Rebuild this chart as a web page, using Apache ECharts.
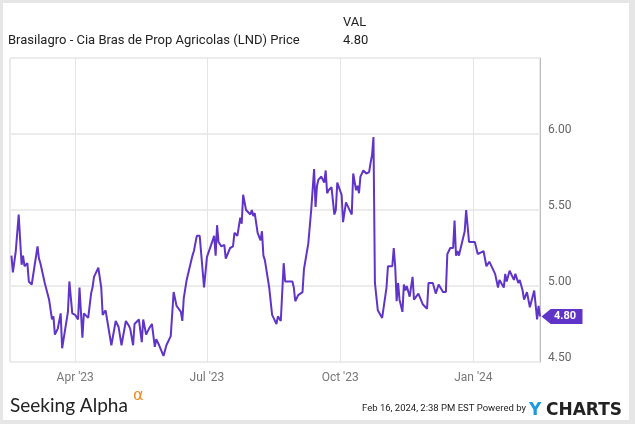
<!DOCTYPE html>
<html>
<head>
<meta charset="utf-8">
<script src="https://cdn.jsdelivr.net/npm/echarts@6/dist/echarts.min.js"></script>
<style>
html,body{margin:0;padding:0;background:#e6e6e6;}
#frame{position:absolute;left:3px;top:3px;width:626px;height:417px;background:#fff;}
#chart{position:absolute;left:0;top:0;width:635px;height:424px;}
</style>
</head>
<body>
<div id="frame"></div>
<div id="chart"></div>
<script>
const title = "Brasilagro - Cia Bras de Prop Agricolas (LND) Price";
const dates = [
"2023-02-16","2023-02-17","2023-02-19","2023-02-21","2023-02-23","2023-02-24","2023-02-25","2023-02-27","2023-02-28","2023-03-01",
"2023-03-02","2023-03-06","2023-03-07","2023-03-08","2023-03-11","2023-03-14","2023-03-16","2023-03-17","2023-03-18","2023-03-20",
"2023-03-22","2023-03-23","2023-03-27","2023-03-28","2023-03-30","2023-04-01","2023-04-03","2023-04-04","2023-04-06","2023-04-07",
"2023-04-10","2023-04-12","2023-04-13","2023-04-14","2023-04-17","2023-04-19","2023-04-20","2023-04-22","2023-04-26","2023-04-27",
"2023-04-29","2023-05-01","2023-05-03","2023-05-04","2023-05-06","2023-05-08","2023-05-09","2023-05-11","2023-05-12","2023-05-15",
"2023-05-17","2023-05-18","2023-05-20","2023-05-22","2023-05-23","2023-05-24","2023-05-26","2023-05-27","2023-05-29","2023-06-01",
"2023-06-03","2023-06-06","2023-06-08","2023-06-10","2023-06-13","2023-06-14","2023-06-15","2023-06-16","2023-06-17","2023-06-21",
"2023-06-22","2023-06-24","2023-06-26","2023-06-29","2023-06-30","2023-07-01","2023-07-06","2023-07-07","2023-07-08","2023-07-09",
"2023-07-11","2023-07-13","2023-07-14","2023-07-17","2023-07-19","2023-07-20","2023-07-22","2023-07-24","2023-07-25","2023-07-26",
"2023-07-28","2023-07-31","2023-08-01","2023-08-02","2023-08-03","2023-08-05","2023-08-07","2023-08-08","2023-08-09","2023-08-10",
"2023-08-13","2023-08-15","2023-08-16","2023-08-17","2023-08-18","2023-08-19","2023-08-21","2023-08-23","2023-08-24","2023-08-25",
"2023-08-29","2023-08-30","2023-08-31","2023-09-02","2023-09-05","2023-09-06","2023-09-07","2023-09-09","2023-09-11","2023-09-13",
"2023-09-14","2023-09-15","2023-09-16","2023-09-18","2023-09-19","2023-09-20","2023-09-21","2023-09-22","2023-09-23","2023-09-25",
"2023-09-27","2023-09-28","2023-09-29","2023-10-02","2023-10-03","2023-10-05","2023-10-09","2023-10-10","2023-10-12","2023-10-13",
"2023-10-14","2023-10-15","2023-10-17","2023-10-19","2023-10-21","2023-10-22","2023-10-23","2023-10-24","2023-10-25","2023-10-26",
"2023-10-27","2023-10-30","2023-11-02","2023-11-03","2023-11-06","2023-11-07","2023-11-08","2023-11-09","2023-11-10","2023-11-11",
"2023-11-13","2023-11-14","2023-11-15","2023-11-16","2023-11-18","2023-11-20","2023-11-21","2023-11-24","2023-11-27","2023-11-30",
"2023-12-01","2023-12-04","2023-12-06","2023-12-08","2023-12-11","2023-12-13","2023-12-14","2023-12-16","2023-12-18","2023-12-19",
"2023-12-20","2023-12-21","2023-12-22","2023-12-26","2023-12-27","2023-12-29","2024-01-02","2024-01-04","2024-01-08","2024-01-10",
"2024-01-12","2024-01-16","2024-01-18","2024-01-19","2024-01-22","2024-01-23","2024-01-24","2024-01-26","2024-01-27","2024-01-29",
"2024-01-30","2024-02-01","2024-02-02","2024-02-04","2024-02-05","2024-02-07","2024-02-09","2024-02-12","2024-02-14","2024-02-15",
"2024-02-16"
];
const prices = [
5.20,5.09,5.23,5.47,5.14,5.20,5.13,5.15,5.03,5.04,
5.01,5.26,5.18,5.15,5.02,4.91,4.78,4.80,4.68,4.72,
4.82,4.59,4.83,5.03,4.82,4.81,4.78,4.99,4.66,4.82,
4.79,4.95,4.99,5.06,5.12,4.99,4.81,4.84,4.61,4.61,
4.77,4.73,4.61,4.62,4.77,4.74,4.72,4.61,4.75,4.78,
4.63,4.78,4.68,4.72,4.71,4.75,4.60,4.65,4.61,4.54,
4.61,4.67,4.96,4.87,4.83,4.77,4.92,4.93,5.04,5.20,
5.23,5.33,5.33,4.99,5.00,5.19,5.33,5.20,5.40,5.29,
5.26,5.27,5.18,5.25,5.26,5.35,5.33,5.45,5.41,5.60,
5.50,5.47,5.50,5.46,5.48,5.35,5.30,5.36,5.20,5.17,
4.99,4.81,4.79,4.80,4.75,4.80,4.77,5.15,5.03,5.04,
5.03,4.99,4.90,4.94,4.96,5.11,5.12,5.28,5.50,5.77,
5.52,5.66,5.70,5.72,5.72,5.68,5.76,5.61,5.63,5.65,
5.47,5.50,5.68,5.60,5.42,5.55,5.47,5.74,5.63,5.66,
5.61,5.72,5.76,5.74,5.75,5.81,5.86,5.98,5.02,5.01,
4.84,4.79,4.99,5.13,5.13,5.25,5.13,4.90,5.02,4.91,
4.83,5.01,4.97,5.00,4.93,5.06,4.91,4.95,4.88,4.85,
5.02,5.02,4.95,5.01,4.96,4.96,5.21,5.25,5.25,5.43,
5.20,5.23,5.20,5.36,5.50,5.29,5.29,5.21,5.23,5.13,
5.16,5.08,4.99,5.04,4.99,5.08,5.03,5.10,5.09,5.04,
5.08,5.02,5.04,4.97,4.91,4.96,4.86,4.97,4.78,4.87,
4.80
];
const xTickDates = ["2023-04-01","2023-07-01","2023-10-01","2024-01-01"];
const xTickLabels = ["Apr '23","Jul '23","Oct '23","Jan '24"];
const xRange = ["2023-02-15","2024-02-16"];
const yRange = [4.5, 6.5];
const yStep = 0.5;

function ts(s){const p=s.split('-').map(Number);return Date.UTC(p[0],p[1]-1,p[2]);}
const tickTs = xTickDates.map(ts);
const seriesData = dates.map((d,i)=>[ts(d), prices[i]]);
const last = seriesData[seriesData.length-1];
const lastStr = last[1].toFixed(2);
const purple = '#6034c8';

const chart = echarts.init(document.getElementById('chart'), null, {renderer:'canvas'});
chart.setOption({
  animation:false,
  backgroundColor:'transparent',
  textStyle:{fontFamily:'Roboto'},
  grid:{left:10,right:95,top:58,bottom:62,show:true,borderColor:'#d4d4d4',borderWidth:1,backgroundColor:'transparent'},
  xAxis:{
    type:'value', min:ts(xRange[0]), max:ts(xRange[1]),
    axisLine:{show:false},
    axisTick:{show:false, customValues:tickTs},
    splitLine:{show:true, lineStyle:{color:'#e4e4e4',width:1}},
    axisLabel:{customValues:tickTs, color:'#777', fontSize:12, margin:10,
      formatter:function(v){const i=tickTs.indexOf(v);return i>=0?xTickLabels[i]:'';}}
  },
  yAxis:{
    type:'value', position:'right', min:yRange[0], max:yRange[1], interval:yStep,
    axisLine:{show:true, lineStyle:{color:'#bdbdbd'}},
    axisTick:{show:false},
    splitLine:{show:true, lineStyle:{color:'#ececec',width:2}},
    axisLabel:{color:'#666', fontSize:12, margin:8, showMaxLabel:false, verticalAlign:'bottom', lineHeight:9,
      formatter:function(v){return v.toFixed(2);}}
  },
  series:[{
    type:'line', data:seriesData, showSymbol:false, symbol:'none',
    lineStyle:{color:purple,width:2}, itemStyle:{color:purple},
    markPoint:{
      silent:true,
      data:[{coord:last, value:lastStr}],
      symbol:'path://M0,7 L9,0 L40,0 L40,14 L9,14 Z',
      symbolSize:[41,15], symbolOffset:[22,0], symbolKeepAspect:false,
      itemStyle:{color:purple},
      label:{show:true, position:'inside', color:'#fff', fontWeight:'bold', fontSize:11, fontFamily:'Roboto', offset:[3,0],
        formatter:function(){return lastStr;}}
    }
  }],
  graphic:[
    {type:'text', left:8, top:34, style:{text:title, fill:'#222', font:'13px Roboto'}},
    {type:'text', left:343, top:16, style:{text:'VAL', fill:'#222', font:'13px Roboto'}},
    {type:'text', left:343, top:34, style:{text:lastStr, fill:'#222', font:'13px Roboto'}},
    {type:'text', left:10, top:396, style:{text:'Seeking Alpha', fill:'#222', font:'19px Lato'}},
    {type:'text', left:133, top:388, style:{text:'α', fill:'#f28b22', font:'16px "DejaVu Sans"'}},
    {type:'text', left:362, top:404, style:{text:'Feb 16, 2024, 2:38 PM EST Powered by', fill:'#222', font:'9.5px Roboto'}},
    {type:'text', left:529, top:402, style:{text:'Y', fill:'#1a9ae0', font:'bold 17px "DejaVu Sans"'}},
    {type:'text', left:546, top:402, style:{text:'CHARTS', fill:'#222', font:'bold 17px "DejaVu Sans"'}}
  ]
});
</script>
</body>
</html>
